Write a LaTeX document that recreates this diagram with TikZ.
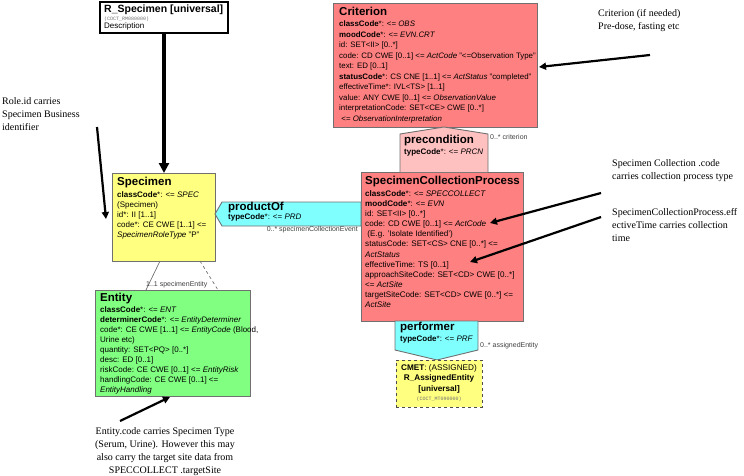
\documentclass[tikz,border=0pt]{standalone}
\usepackage{fontspec}
\setmainfont{Liberation Serif}
\setsansfont{Liberation Sans}
\setmonofont{Liberation Mono}
\usetikzlibrary{arrows.meta}
\definecolor{salmon}{HTML}{FF8080}
\definecolor{lpink}{HTML}{FFC0C0}
\definecolor{cy}{HTML}{80FFFF}
\definecolor{yel}{HTML}{FFFF80}
\definecolor{grn}{HTML}{80FF80}
\definecolor{bord}{HTML}{707070}
\newcommand{\ttl}[1]{{\bfseries\fontsize{11.5}{12}\selectfont #1}}
\begin{document}
\begin{tikzpicture}[x=1pt,y=-1pt,
  boxs/.style={draw=bord, line width=0.9pt, anchor=north west, inner sep=0pt, outer sep=0pt},
  txt/.style={anchor=north west, align=left, inner sep=0pt, font=\sffamily\fontsize{8}{10.3}\selectfont},
  ctxt/.style={anchor=north, align=center, inner sep=0pt, font=\sffamily\fontsize{8.2}{10.5}\selectfont},
  lbl/.style={font=\sffamily\fontsize{7}{8}\selectfont, text=black!75, inner sep=0pt},
  note/.style={font=\rmfamily\fontsize{10}{13}\selectfont, align=left, inner sep=0pt, anchor=north west},
  bigarrow/.style={line width=3.2pt, -{Triangle[length=10pt,width=10pt]}},
  notearrow/.style={line width=2.2pt, -{Triangle[length=7pt,width=7pt]}},
]
\useasboundingbox (0,0) rectangle (744,476);

% ---------- R_Specimen ----------
\node[boxs, draw=black, line width=1.6pt, fill=white, minimum width=128pt, minimum height=31pt] (rs) at (100,2) {};
\node[txt] (rsT) at ([shift={(4,3)}]rs.north west) {{\bfseries\fontsize{10.5}{11}\selectfont R\_Specimen [universal]}\\[-3pt]
{\ttfamily\fontsize{5}{6}\selectfont\color{black!55}(COCT\_RM080000)}\\[-2pt]
Description};

% ---------- Criterion ----------
\node[boxs, fill=salmon, minimum width=204pt, minimum height=124pt] (crit) at (333,3) {};
\node[txt, font=\sffamily\fontsize{7.9}{10.55}\selectfont] (critT) at ([shift={(6,4)}]crit.north west) {\ttl{Criterion}\\[0.5pt]
\textbf{classCode}*: <= \textit{OBS}\\
\textbf{moodCode}*: <= \textit{EVN.CRT}\\
id: SET<II> [0..*]\\
code: CD CWE [0..1] <= \textit{ActCode} "<=Observation Type"\\
text: ED [0..1]\\
\textbf{statusCode}*: CS CNE [1..1] <= \textit{ActStatus} "completed"\\
effectiveTime*: IVL<TS> [1..1]\\
value: ANY CWE [0..1] <= \textit{ObservationValue}\\
interpretationCode: SET<CE> CWE [0..*]\\
\ <= \textit{ObservationInterpretation}};

% ---------- SpecimenCollectionProcess ----------
\node[boxs, fill=salmon, minimum width=162pt, minimum height=149pt] (scp) at (361,172) {};
\node[txt, font=\sffamily\fontsize{8.1}{10.15}\selectfont] (scpT) at ([shift={(4,4)}]scp.north west) {\ttl{SpecimenCollectionProcess}\\[1.5pt]
\textbf{classCode}*: <= \textit{SPECCOLLECT}\\
\textbf{moodCode}*: <= \textit{EVN}\\
id: SET<II> [0..*]\\
code: CD CWE [0..1] <= \textit{ActCode}\\
\ (E.g. 'Isolate Identified')\\
statusCode: SET<CS> CNE [0..*] <=\\
\textit{ActStatus}\\
effectiveTime: TS [0..1]\\
approachSiteCode: SET<CD> CWE [0..*]\\
<= \textit{ActSite}\\
targetSiteCode: SET<CD> CWE [0..*] <=\\
\textit{ActSite}};

% ---------- precondition ----------
\coordinate (pcA) at (400,172);
\coordinate (pcB) at (400,134);
\coordinate (pcC) at (444,127);
\coordinate (pcD) at (488,134);
\coordinate (pcE) at (488,172);
\draw[draw=bord, line width=0.9pt, fill=lpink] (pcA) -- (pcB) -- (pcC) -- (pcD) -- (pcE);
\node[txt] (pcT) at (404,135) {\ttl{precondition}\\[1pt]
\textbf{typeCode}*: <= \textit{PRCN}};
\node[lbl, anchor=west] (pcL) at (490,137) {0..* criterion};

% ---------- Specimen ----------
\node[boxs, fill=yel, minimum width=103pt, minimum height=88pt] (sp) at (112,173) {};
\node[txt, font=\sffamily\fontsize{8}{10}\selectfont] (spT) at ([shift={(5,4)}]sp.north west) {\ttl{Specimen}\\[1.5pt]
\textbf{classCode}*: <= \textit{SPEC}\\
(Specimen)\\
id*: II [1..1]\\
code*: CE CWE [1..1] <=\\
\textit{SpecimenRoleType} "P"};

% ---------- productOf ----------
\coordinate (poA) at (215,214);
\coordinate (poB) at (222,202);
\coordinate (poC) at (361,202);
\coordinate (poD) at (361,226);
\coordinate (poE) at (222,226);
\draw[draw=bord, line width=0.9pt, fill=cy] (poA) -- (poB) -- (poC) -- (poD) -- (poE) -- cycle;
\node[txt] (poT) at (228,202) {\ttl{productOf}\\[-1pt]
\textbf{typeCode}*: <= \textit{PRD}};
\node[lbl, anchor=north east] (poL) at (358,226) {0..* specimenCollectionEvent};

% ---------- Entity ----------
\node[boxs, fill=grn, minimum width=155pt, minimum height=106pt] (ent) at (95,290) {};
\node[txt, font=\sffamily\fontsize{8}{10}\selectfont] (entT) at ([shift={(5,3)}]ent.north west) {\ttl{Entity}\\[0.5pt]
\textbf{classCode}*: <= \textit{ENT}\\
\textbf{determinerCode}*: <= \textit{EntityDeterminer}\\
code*: CE CWE [1..1] <= \textit{EntityCode} (Blood,\\
Urine etc)\\
quantity: SET<PQ> [0..*]\\
desc: ED [0..1]\\
riskCode: CE CWE [0..1] <= \textit{EntityRisk}\\
handlingCode: CE CWE [0..1] <=\\
\textit{EntityHandling}};

% Specimen - Entity connectors
\coordinate (s1) at (160,261);
\coordinate (e1) at (146,290);
\coordinate (s2) at (200,261);
\coordinate (e2) at (218,290);
\draw[bord, line width=0.7pt] (s1) -- (e1);
\draw[bord, line width=0.7pt, dashed] (s2) -- (e2);
\node[lbl, anchor=south west] (seL) at (146,288) {1..1 specimenEntity};

% ---------- performer ----------
\coordinate (peA) at (395,321);
\coordinate (peB) at (478,321);
\coordinate (peC) at (478,350);
\coordinate (peD) at (437,360);
\coordinate (peE) at (395,350);
\draw[draw=bord, line width=0.9pt, fill=cy] (peA) -- (peB) -- (peC) -- (peD) -- (peE) -- cycle;
\node[txt] (peT) at (400,322) {\ttl{performer}\\[1pt]
\textbf{typeCode}*: <= \textit{PRF}};
\node[lbl, anchor=west] (peL) at (480,346) {0..* assignedEntity};

% ---------- CMET ----------
\node[boxs, draw=black!70, dashed, fill=yel, minimum width=86pt, minimum height=47pt] (cm) at (396,360) {};
\node[ctxt] (cmT) at ([yshift=-4pt]cm.north) {\textbf{CMET}: (ASSIGNED)\\
\textbf{R\_AssignedEntity}\\
\textbf{[universal]}\\[-1pt]
{\ttfamily\fontsize{5}{6}\selectfont\color{black!55}(COCT\_MT090000)}};

% ---------- big arrow R_Specimen -> Specimen ----------
\draw[bigarrow] (rs.south) -- (rs.south |- sp.north);

% ---------- notes ----------
\node[note] (n1) at (2,97) {Role.id carries\\Specimen Business\\identifier};
\coordinate (n1s) at (97,127);
\coordinate (n1e) at (106,219);
\draw[notearrow] (n1s) -- (n1e);

\node[note] (n2) at (598,9) {Criterion (if needed)\\Pre-dose, fasting etc};
\coordinate (n2s) at (650,55);
\coordinate (n2e) at (539,67);
\draw[notearrow] (n2s) -- (n2e);

\node[note] (n3) at (612,159) {Specimen Collection .code\\carries collection process type};
\coordinate (n3s) at (601,193);
\coordinate (n3e) at (490,223);
\draw[notearrow] (n3s) -- (n3e);

\node[note] (n4) at (612,208) {SpecimenCollectionProcess.eff\\ectiveTime carries collection\\time};
\coordinate (n4s) at (601,217);
\coordinate (n4e) at (470,262);
\draw[notearrow] (n4s) -- (n4e);

\node[note, anchor=north, align=center] (n5) at (165,427) {Entity.code carries Specimen Type\\(Serum, Urine). However this may\\also carry the target site data from\\SPECCOLLECT .targetSite};
\coordinate (n5s) at (120,421);
\coordinate (n5e) at (170,397);
\draw[notearrow] (n5s) -- (n5e);
\end{tikzpicture}
\end{document}
